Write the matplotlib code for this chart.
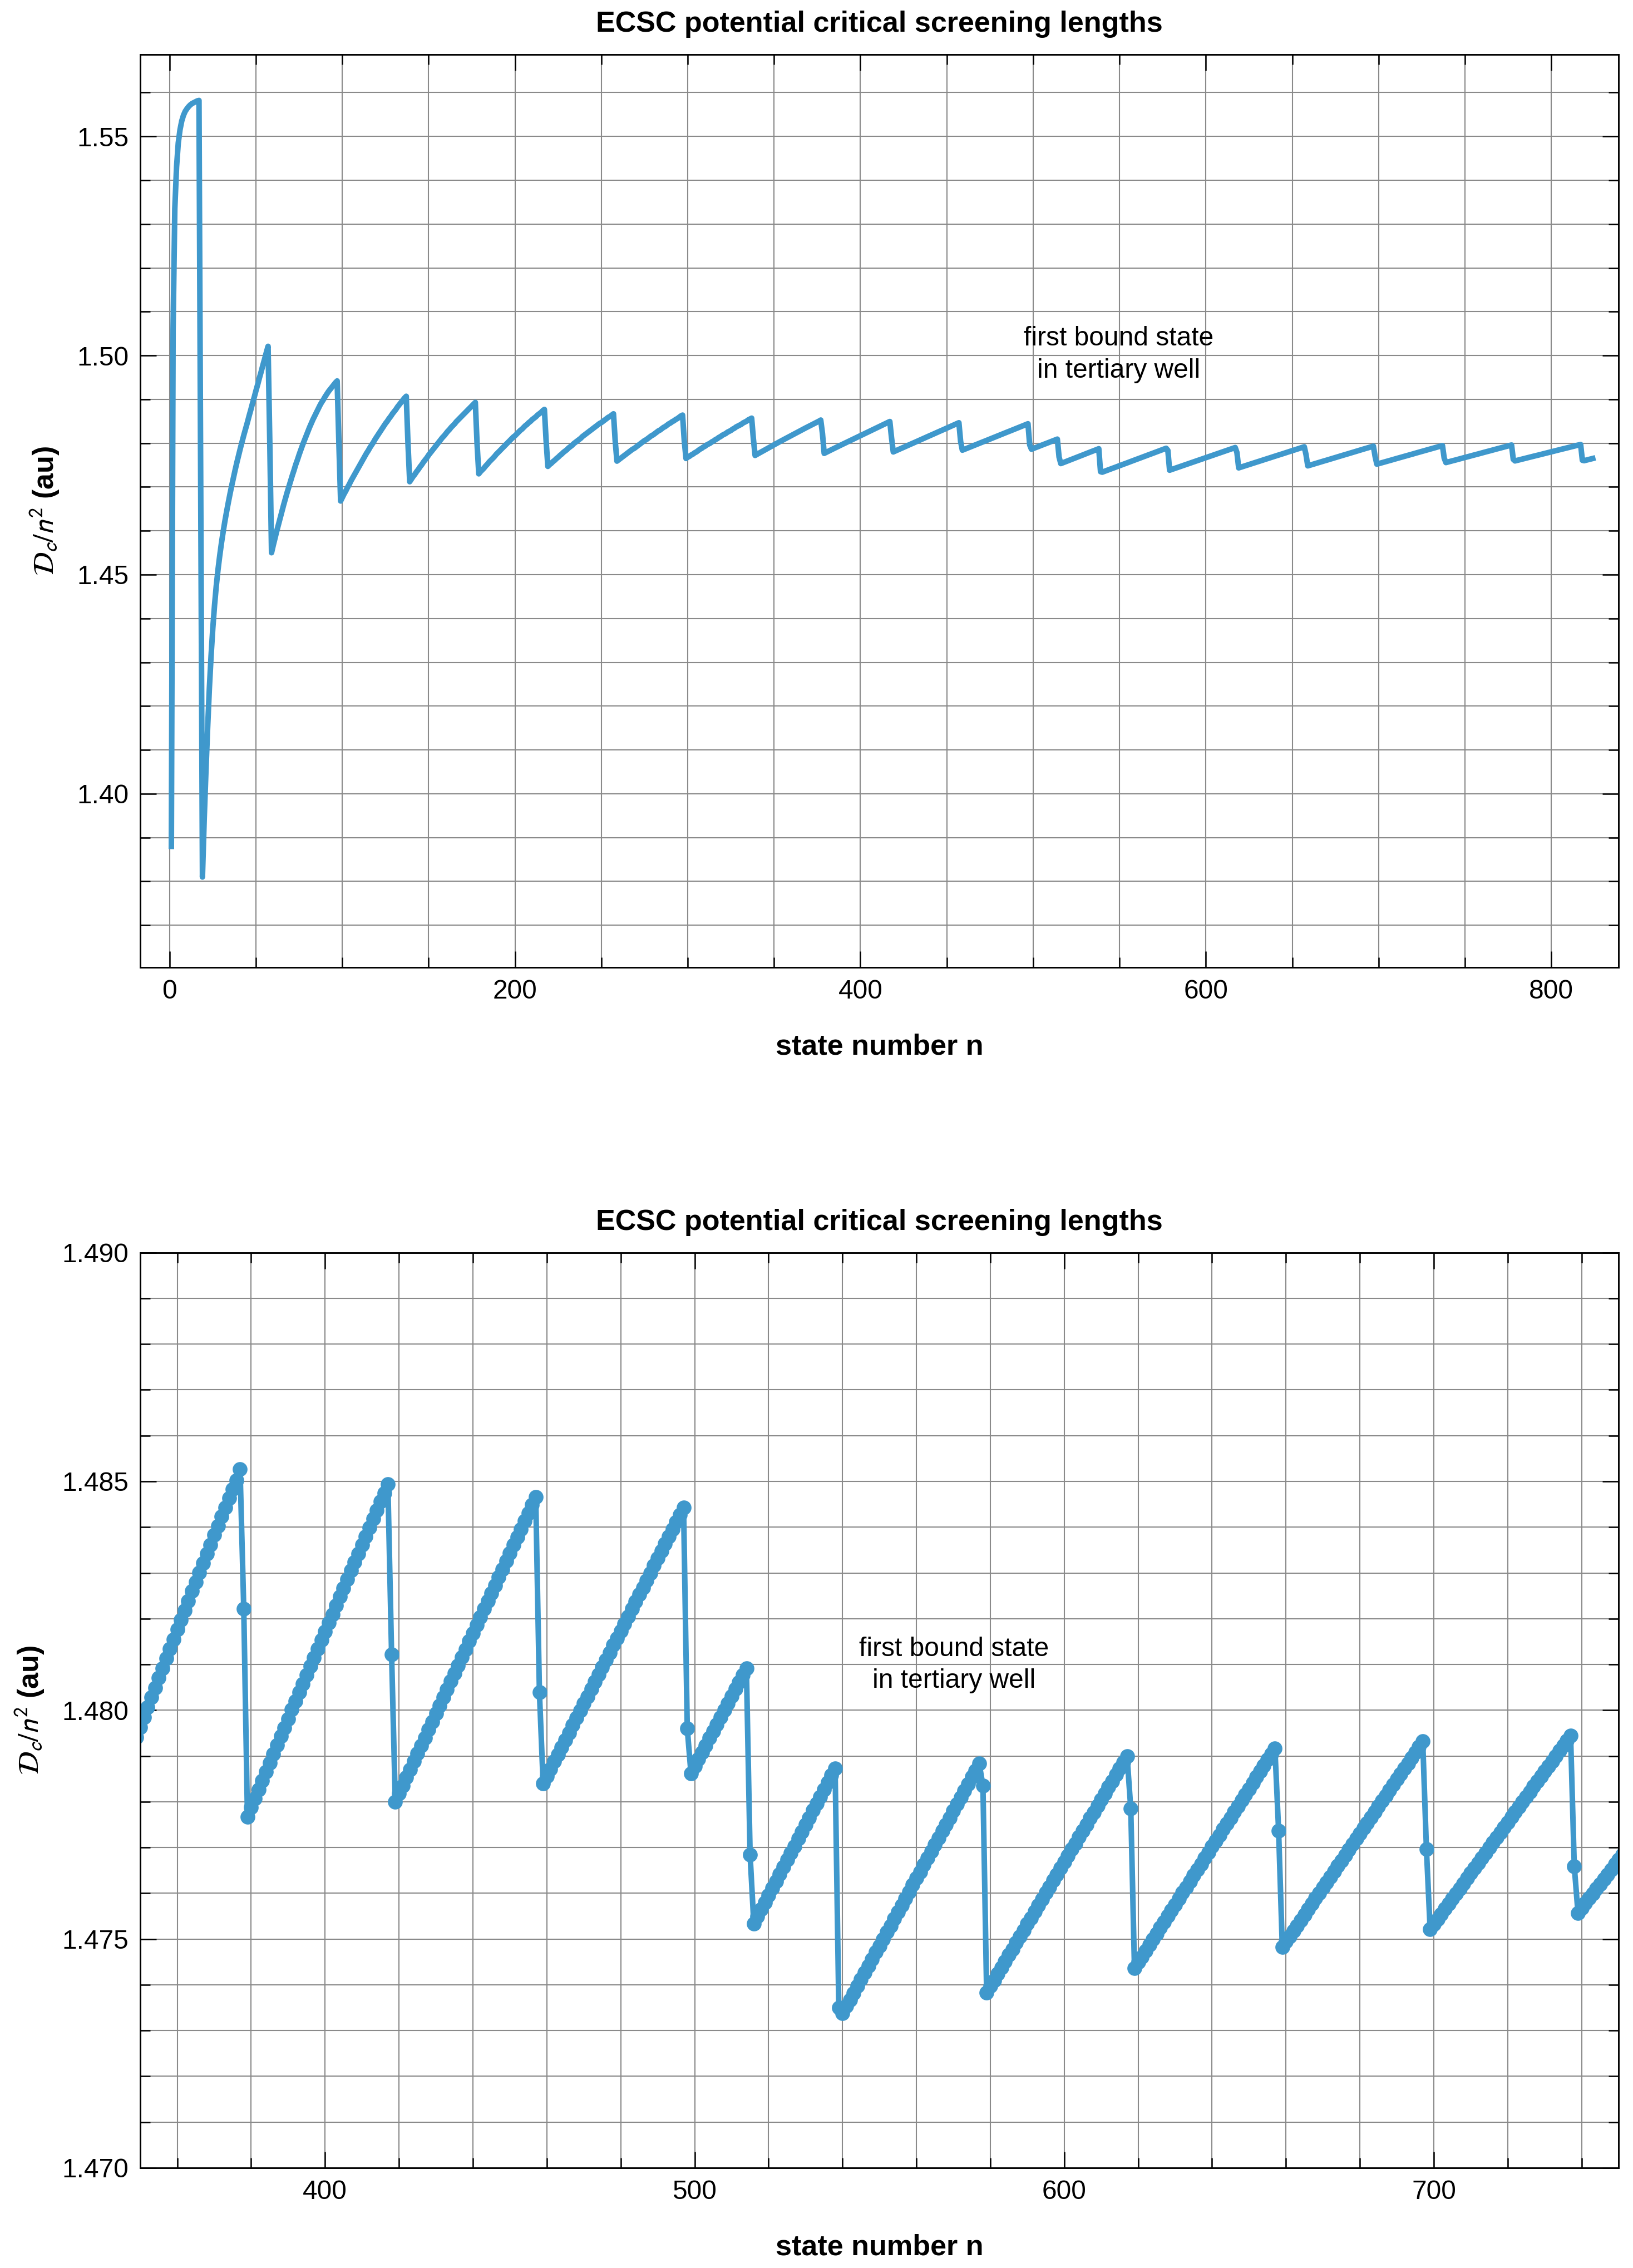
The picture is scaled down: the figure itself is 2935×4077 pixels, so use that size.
import numpy as np
import matplotlib
matplotlib.use("Agg")
import matplotlib.pyplot as plt
from matplotlib.ticker import MultipleLocator, FormatStrFormatter

plt.rcParams['font.family'] = ['Liberation Sans', 'DejaVu Sans']

# ---------- Data: D_c / n^2 for consecutive state numbers n ----------
# one list per "tooth": ramp values, last entry = point on the drop
FIRST_STATE = 1

tooth_a = [1.3880, 1.5060, 1.5335, 1.5430, 1.5485, 1.5515, 1.5535, 1.5548, 1.5557,
           1.5563, 1.5568, 1.5572, 1.5575, 1.5577, 1.5579, 1.5581, 1.5582, 1.4700]
tooth_b = [1.3810, 1.3940, 1.4050, 1.4150, 1.4240, 1.4315, 1.4378, 1.4430, 1.4474,
           1.4511, 1.4543, 1.4572, 1.4598, 1.4622, 1.4644, 1.4665, 1.4685, 1.4704,
           1.4722, 1.4740, 1.4757, 1.4773, 1.4789, 1.4804, 1.4819, 1.4833, 1.4847,
           1.4862, 1.4876, 1.4891, 1.4905, 1.4920, 1.4934, 1.4949, 1.4963, 1.4978,
           1.4992, 1.5007, 1.5021, 1.4800]
tooth_c = [1.4550, 1.4567, 1.4583, 1.4599, 1.4614, 1.4629, 1.4644, 1.4659, 1.4673,
           1.4687, 1.4700, 1.4713, 1.4726, 1.4738, 1.4751, 1.4762, 1.4774, 1.4785,
           1.4796, 1.4806, 1.4816, 1.4826, 1.4836, 1.4845, 1.4854, 1.4862, 1.4870,
           1.4878, 1.4886, 1.4893, 1.4899, 1.4906, 1.4912, 1.4918, 1.4923, 1.4928,
           1.4933, 1.4938, 1.4942, 1.4800]
tooth_d = [1.4668, 1.4676, 1.4684, 1.4691, 1.4699, 1.4706, 1.4714, 1.4721, 1.4728,
           1.4735, 1.4742, 1.4749, 1.4756, 1.4763, 1.4770, 1.4777, 1.4783, 1.4790,
           1.4796, 1.4802, 1.4809, 1.4815, 1.4821, 1.4827, 1.4833, 1.4839, 1.4845,
           1.4850, 1.4856, 1.4861, 1.4867, 1.4872, 1.4877, 1.4883, 1.4888, 1.4893,
           1.4898, 1.4903, 1.4907, 1.4800]
tooth_e = [1.4712, 1.4718, 1.4724, 1.4729, 1.4735, 1.4740, 1.4746, 1.4751, 1.4757,
           1.4762, 1.4767, 1.4773, 1.4778, 1.4783, 1.4788, 1.4793, 1.4798, 1.4803,
           1.4808, 1.4813, 1.4817, 1.4822, 1.4827, 1.4831, 1.4836, 1.4840, 1.4844,
           1.4849, 1.4853, 1.4857, 1.4861, 1.4865, 1.4869, 1.4873, 1.4877, 1.4881,
           1.4885, 1.4889, 1.4893, 1.4800]
tooth_f = [1.4730, 1.4735, 1.4739, 1.4743, 1.4748, 1.4752, 1.4757, 1.4761, 1.4765,
           1.4769, 1.4774, 1.4778, 1.4782, 1.4786, 1.4790, 1.4794, 1.4798, 1.4802,
           1.4806, 1.4810, 1.4814, 1.4817, 1.4821, 1.4825, 1.4829, 1.4832, 1.4836,
           1.4840, 1.4843, 1.4847, 1.4850, 1.4854, 1.4857, 1.4860, 1.4864, 1.4867,
           1.4870, 1.4874, 1.4877, 1.4805]
tooth_g = [1.4747, 1.4751, 1.4754, 1.4758, 1.4761, 1.4765, 1.4768, 1.4772, 1.4775,
           1.4779, 1.4782, 1.4785, 1.4789, 1.4792, 1.4795, 1.4799, 1.4802, 1.4805,
           1.4808, 1.4811, 1.4815, 1.4818, 1.4821, 1.4824, 1.4827, 1.4830, 1.4833,
           1.4836, 1.4839, 1.4842, 1.4845, 1.4847, 1.4850, 1.4853, 1.4856, 1.4859,
           1.4861, 1.4864, 1.4867, 1.4805]
tooth_h = [1.4759, 1.4762, 1.4765, 1.4768, 1.4771, 1.4774, 1.4777, 1.4780, 1.4783,
           1.4786, 1.4788, 1.4791, 1.4794, 1.4797, 1.4800, 1.4803, 1.4806, 1.4808,
           1.4811, 1.4814, 1.4817, 1.4819, 1.4822, 1.4825, 1.4828, 1.4830, 1.4833,
           1.4836, 1.4838, 1.4841, 1.4844, 1.4846, 1.4849, 1.4851, 1.4854, 1.4856,
           1.4859, 1.4862, 1.4864, 1.4805]
tooth_i = [1.4765, 1.4768, 1.4770, 1.4773, 1.4775, 1.4778, 1.4780, 1.4783, 1.4786,
           1.4788, 1.4791, 1.4793, 1.4796, 1.4798, 1.4800, 1.4803, 1.4805, 1.4808,
           1.4810, 1.4813, 1.4815, 1.4818, 1.4820, 1.4822, 1.4825, 1.4827, 1.4829,
           1.4832, 1.4834, 1.4837, 1.4839, 1.4841, 1.4843, 1.4846, 1.4848, 1.4850,
           1.4853, 1.4855, 1.4857, 1.4810]
tooth_j = [1.47720, 1.47743, 1.47765, 1.47787, 1.47810, 1.47832, 1.47854, 1.47876,
           1.47898, 1.47920, 1.47941, 1.47963, 1.47985, 1.48006, 1.48028, 1.48049,
           1.48071, 1.48092, 1.48113, 1.48134, 1.48155, 1.48176, 1.48197, 1.48218,
           1.48239, 1.48260, 1.48280, 1.48301, 1.48321, 1.48342, 1.48362, 1.48383,
           1.48403, 1.48423, 1.48443, 1.48463, 1.48483, 1.48503, 1.48527, 1.48222]
tooth_k = [1.47767, 1.47787, 1.47807, 1.47826, 1.47846, 1.47865, 1.47885, 1.47904,
           1.47924, 1.47943, 1.47962, 1.47981, 1.48001, 1.48020, 1.48039, 1.48058,
           1.48077, 1.48096, 1.48115, 1.48134, 1.48153, 1.48172, 1.48191, 1.48210,
           1.48229, 1.48248, 1.48267, 1.48286, 1.48305, 1.48324, 1.48342, 1.48361,
           1.48380, 1.48399, 1.48418, 1.48437, 1.48456, 1.48475, 1.48494, 1.48122]
tooth_l = [1.47800, 1.47818, 1.47835, 1.47853, 1.47870, 1.47888, 1.47905, 1.47923,
           1.47940, 1.47958, 1.47975, 1.47993, 1.48010, 1.48028, 1.48045, 1.48063,
           1.48080, 1.48098, 1.48116, 1.48133, 1.48151, 1.48168, 1.48186, 1.48203,
           1.48221, 1.48238, 1.48256, 1.48273, 1.48291, 1.48308, 1.48326, 1.48343,
           1.48361, 1.48378, 1.48396, 1.48414, 1.48431, 1.48449, 1.48466, 1.48039]
tooth_m = [1.47840, 1.47856, 1.47872, 1.47888, 1.47903, 1.47919, 1.47935, 1.47951,
           1.47967, 1.47983, 1.47999, 1.48015, 1.48030, 1.48046, 1.48062, 1.48078,
           1.48094, 1.48110, 1.48126, 1.48142, 1.48157, 1.48173, 1.48189, 1.48205,
           1.48221, 1.48237, 1.48253, 1.48268, 1.48284, 1.48300, 1.48316, 1.48332,
           1.48348, 1.48364, 1.48380, 1.48395, 1.48411, 1.48427, 1.48443, 1.47960]
tooth_n = [1.47862, 1.47877, 1.47893, 1.47908, 1.47923, 1.47939, 1.47954, 1.47969,
           1.47985, 1.48000, 1.48015, 1.48031, 1.48046, 1.48061, 1.48077, 1.48092,
           1.47684]
tooth_o = [1.47534, 1.47549, 1.47565, 1.47580, 1.47596, 1.47611, 1.47626, 1.47642,
           1.47657, 1.47673, 1.47688, 1.47703, 1.47719, 1.47734, 1.47750, 1.47765,
           1.47781, 1.47796, 1.47811, 1.47827, 1.47842, 1.47858, 1.47873, 1.47350]
tooth_p = [1.47338, 1.47353, 1.47367, 1.47382, 1.47397, 1.47412, 1.47426, 1.47441,
           1.47456, 1.47471, 1.47485, 1.47500, 1.47515, 1.47529, 1.47544, 1.47559,
           1.47574, 1.47588, 1.47603, 1.47618, 1.47633, 1.47647, 1.47662, 1.47677,
           1.47692, 1.47706, 1.47721, 1.47736, 1.47750, 1.47765, 1.47780, 1.47795,
           1.47809, 1.47824, 1.47839, 1.47854, 1.47868, 1.47883, 1.47835]
tooth_q = [1.47383, 1.47397, 1.47410, 1.47424, 1.47437, 1.47451, 1.47465, 1.47478,
           1.47492, 1.47505, 1.47519, 1.47533, 1.47546, 1.47560, 1.47573, 1.47587,
           1.47601, 1.47614, 1.47628, 1.47641, 1.47655, 1.47669, 1.47682, 1.47696,
           1.47709, 1.47723, 1.47737, 1.47750, 1.47764, 1.47777, 1.47791, 1.47805,
           1.47818, 1.47832, 1.47845, 1.47859, 1.47873, 1.47886, 1.47900, 1.47785]
tooth_r = [1.47436, 1.47449, 1.47461, 1.47474, 1.47487, 1.47499, 1.47512, 1.47525,
           1.47537, 1.47550, 1.47563, 1.47575, 1.47588, 1.47601, 1.47613, 1.47626,
           1.47639, 1.47651, 1.47664, 1.47677, 1.47689, 1.47702, 1.47715, 1.47727,
           1.47740, 1.47752, 1.47765, 1.47778, 1.47790, 1.47803, 1.47816, 1.47828,
           1.47841, 1.47854, 1.47866, 1.47879, 1.47892, 1.47904, 1.47917, 1.47737]
tooth_s = [1.47482, 1.47494, 1.47506, 1.47518, 1.47529, 1.47541, 1.47553, 1.47565,
           1.47577, 1.47589, 1.47600, 1.47612, 1.47624, 1.47636, 1.47648, 1.47660,
           1.47671, 1.47683, 1.47695, 1.47707, 1.47719, 1.47731, 1.47742, 1.47754,
           1.47766, 1.47778, 1.47790, 1.47802, 1.47813, 1.47825, 1.47837, 1.47849,
           1.47861, 1.47873, 1.47884, 1.47896, 1.47908, 1.47920, 1.47932, 1.47696]
tooth_t = [1.47521, 1.47532, 1.47543, 1.47554, 1.47566, 1.47577, 1.47588, 1.47599,
           1.47610, 1.47621, 1.47633, 1.47644, 1.47655, 1.47666, 1.47677, 1.47688,
           1.47700, 1.47711, 1.47722, 1.47733, 1.47744, 1.47755, 1.47767, 1.47778,
           1.47789, 1.47800, 1.47811, 1.47822, 1.47834, 1.47845, 1.47856, 1.47867,
           1.47878, 1.47889, 1.47900, 1.47912, 1.47923, 1.47934, 1.47945, 1.47659]
tooth_u = [1.47557, 1.47568, 1.47578, 1.47589, 1.47599, 1.47610, 1.47620, 1.47631,
           1.47641, 1.47652, 1.47663, 1.47673, 1.47684, 1.47694, 1.47705, 1.47715,
           1.47726, 1.47736, 1.47747, 1.47757, 1.47768, 1.47779, 1.47789, 1.47800,
           1.47810, 1.47821, 1.47831, 1.47842, 1.47852, 1.47863, 1.47874, 1.47884,
           1.47895, 1.47905, 1.47916, 1.47926, 1.47937, 1.47947, 1.47958, 1.47630]
tooth_v = [1.47595, 1.47605, 1.47615, 1.47625, 1.47634, 1.47644, 1.47654, 1.47664,
           1.47674, 1.47684, 1.47694, 1.47704, 1.47713, 1.47723, 1.47733, 1.47743,
           1.47753, 1.47763, 1.47773, 1.47783, 1.47792, 1.47802, 1.47812, 1.47822,
           1.47832, 1.47842, 1.47852, 1.47862, 1.47871, 1.47881, 1.47891, 1.47901,
           1.47911, 1.47921, 1.47931, 1.47941, 1.47950, 1.47960, 1.47970, 1.47610]
tooth_w = [1.47600, 1.47610, 1.47620, 1.47630, 1.47640, 1.47650]

TITLE = "ECSC potential critical screening lengths"
NOTE = "first bound state\nin tertiary well"
XLABEL = "state number n"
YLABEL = r"$\mathcal{D}_c/n^2$ (au)"

LINE_COLOR = "#3f98cc"
GRID_COLOR = "#8a8a8a"

teeth = [tooth_a, tooth_b, tooth_c, tooth_d, tooth_e, tooth_f, tooth_g, tooth_h,
         tooth_i, tooth_j, tooth_k, tooth_l, tooth_m, tooth_n, tooth_o, tooth_p,
         tooth_q, tooth_r, tooth_s, tooth_t, tooth_u, tooth_v, tooth_w]
dc = np.concatenate([np.asarray(t, dtype=float) for t in teeth])
n = np.arange(FIRST_STATE, FIRST_STATE + len(dc))


def style_axes(ax, xmaj, xmin, ymaj, ymin, yfmt, ylab_x):
    ax.xaxis.set_major_locator(MultipleLocator(xmaj))
    ax.xaxis.set_minor_locator(MultipleLocator(xmin))
    ax.yaxis.set_major_locator(MultipleLocator(ymaj))
    ax.yaxis.set_minor_locator(MultipleLocator(ymin))
    ax.yaxis.set_major_formatter(FormatStrFormatter(yfmt))
    ax.grid(which="both", color=GRID_COLOR, lw=0.5)
    ax.set_axisbelow(True)
    ax.tick_params(which="both", direction="in", top=True, right=True,
                   width=0.6, color="black", labelsize=11.5)
    ax.tick_params(which="major", length=7, pad=5)
    ax.tick_params(which="minor", length=4.3)
    for s in ax.spines.values():
        s.set_linewidth(0.7)
    ax.text(0.5, 1.033, TITLE, transform=ax.transAxes, ha="center", va="center",
            fontsize=12.5, fontweight="bold")
    ax.set_xlabel(XLABEL, fontsize=12.5, fontweight="bold")
    ax.xaxis.set_label_coords(0.5, -0.087)
    ax.xaxis.label.set_va("center")
    ax.set_ylabel(YLABEL, fontsize=12.5, fontweight="bold", math_fontfamily="stixsans")
    ax.yaxis.set_label_coords(ylab_x, 0.5)
    ax.yaxis.label.set_va("center")


fig = plt.figure(figsize=(2935 / 300, 4077 / 300), dpi=300)

# ---------- top: full range ----------
ax1 = fig.add_axes([0.0859, 0.5735, 0.9053, 0.4025])
ax1.plot(n, dc, color=LINE_COLOR, lw=2.4)
ax1.set_xlim(-17, 839)
ax1.set_ylim(1.3604, 1.5687)
style_axes(ax1, 200, 50, 0.05, 0.01, "%.2f", -0.0647)
ax1.text(549.6, 1.5002, NOTE, ha="center", va="center", fontsize=11.5, linespacing=1.35)

# ---------- bottom: zoom on n = 350..750 ----------
ax2 = fig.add_axes([0.0859, 0.0442, 0.9053, 0.4035])
ax2.plot(n, dc, "-o", color=LINE_COLOR, lw=2.4, ms=5.4)
ax2.set_xlim(350, 750)
ax2.set_ylim(1.470, 1.490)
style_axes(ax2, 100, 20, 0.005, 0.001, "%.3f", -0.0749)
ax2.text(570.1, 1.48099, NOTE, ha="center", va="center", fontsize=11.5, linespacing=1.35)

fig.savefig("out.png", dpi=300)
